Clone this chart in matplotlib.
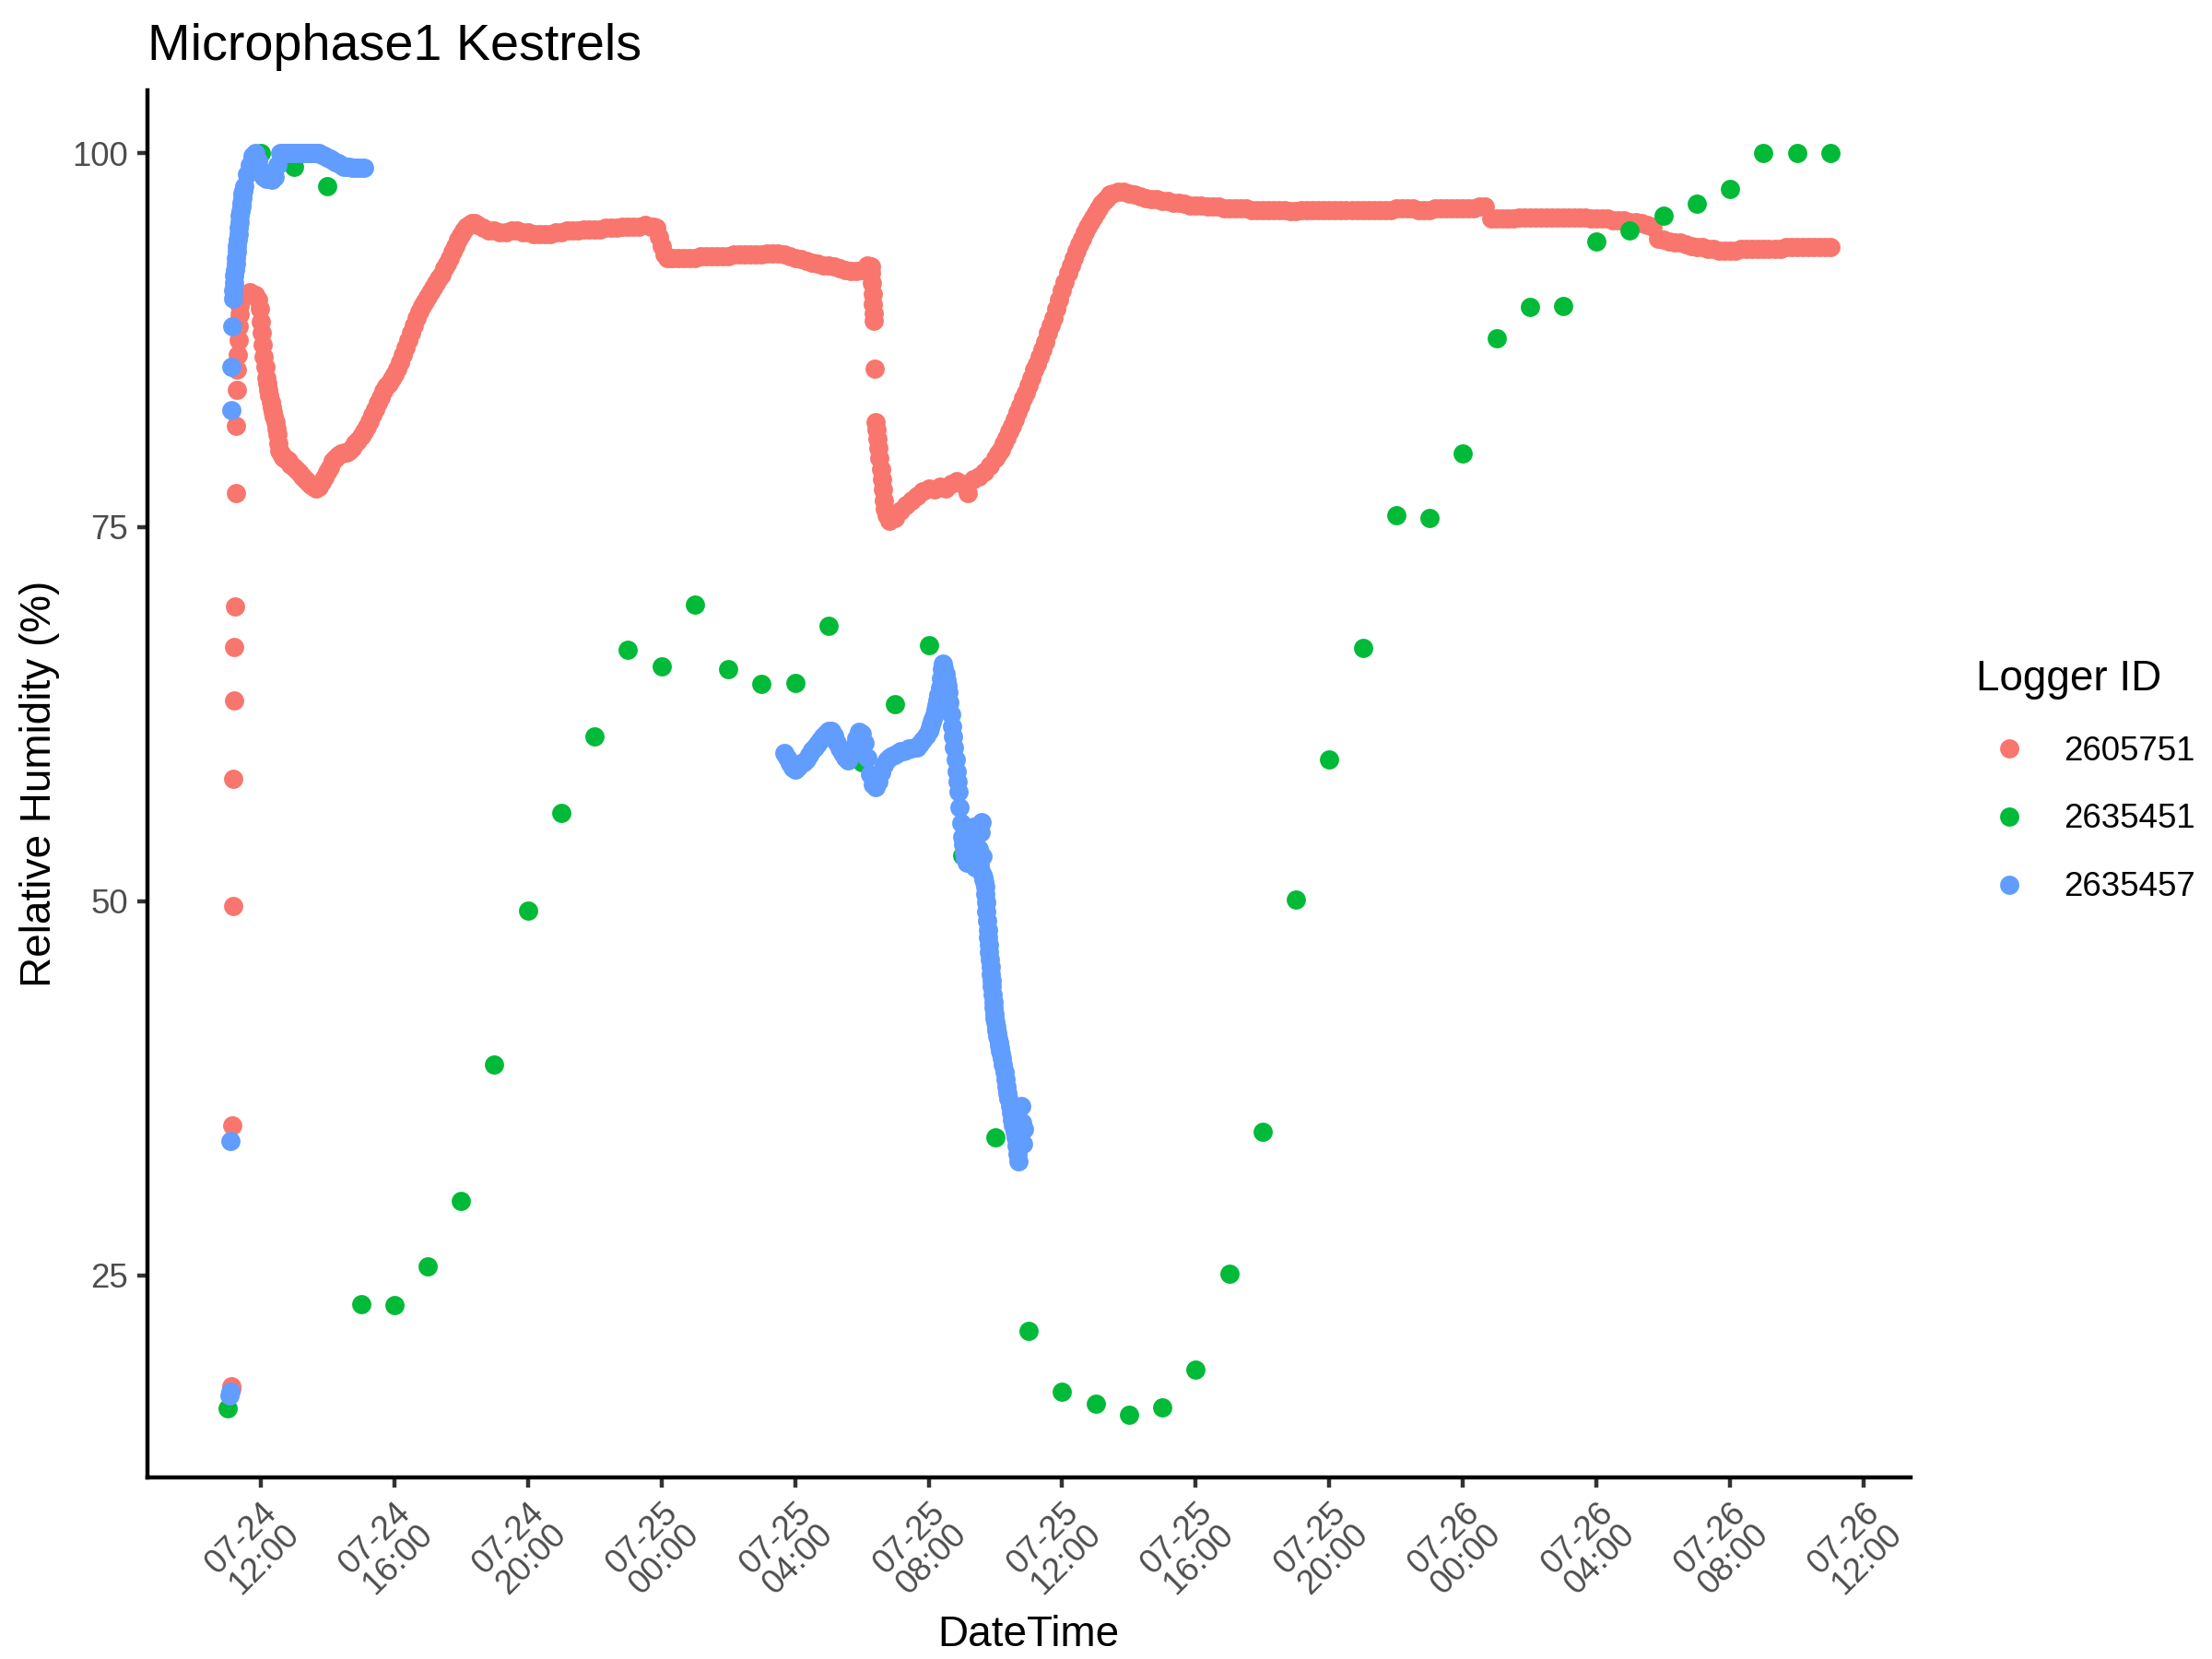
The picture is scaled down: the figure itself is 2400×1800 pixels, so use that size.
import matplotlib
matplotlib.use("Agg")
import matplotlib.pyplot as plt
import matplotlib.dates as mdates
import pandas as pd

plt.rcParams['font.family'] = ['Liberation Sans', 'DejaVu Sans']

logger_ids = ["2605751", "2635451", "2635457"]
logger_colors = ["#F8766D", "#00BA38", "#619CFF"]

# ---- Logger 2605751 (segments of regular logging steps) ----
red_a = [17.4, 17.6, 35.0, 49.7, 58.2, 63.4, 67.0, 69.7, 77.3, 81.8, 84.2, 85.5,
         86.5, 87.5, 88.4, 89.2, 89.8, 90.2]
red_b1 = [90.3, 90.5, 90.6, 90.7, 90.6, 90.5]
red_b2 = [90.2, 89.6, 88.7, 88.0, 87.2, 86.4, 85.7, 85.0, 84.6, 84.2, 83.8, 83.4,
          83.0, 82.7, 82.4, 82.0, 81.6, 81.2, 80.6, 80.1, 79.9, 79.8, 79.7, 79.6,
          79.6, 79.5, 79.5, 79.4, 79.3, 79.2]
red_c1 = [79.0, 78.8, 78.6, 78.4, 78.2, 78.0, 77.8, 77.7, 77.6, 77.7, 78.0, 78.3,
          78.7, 79.0, 79.4, 79.6, 79.8, 79.9, 80.0, 80.0, 80.1, 80.3, 80.6, 80.8,
          81.1, 81.4, 81.7, 82.1, 82.5, 82.9, 83.3, 83.7, 84.1, 84.4, 84.6, 84.9,
          85.2, 85.6, 86.0, 86.5, 87.0, 87.5, 88.0, 88.5, 89.0, 89.4, 89.8, 90.1,
          90.4, 90.7, 91.0, 91.3, 91.6, 91.9, 92.3, 92.6, 93.0, 93.4, 93.8, 94.2,
          94.5, 94.8, 95.1, 95.2, 95.3, 95.3]
red_c2 = [95.2, 95.0, 94.8,
          94.8, 94.7, 94.7, 94.8, 94.8, 94.7,
          94.7, 94.6, 94.6, 94.6, 94.6, 94.7,
          94.7, 94.8, 94.8, 94.8, 94.9, 94.9,
          94.9, 94.9, 95.0, 95.0, 95.0, 95.1,
          95.1, 95.1, 95.1, 95.2, 95.1]
red_d = [95.1, 95.0, 94.4, 93.8, 93.2, 93.0, 93.0]
red_e = [93.0, 93.0, 93.0, 93.0,
         93.0, 93.1, 93.1, 93.1, 93.1, 93.1,
         93.1, 93.2, 93.2, 93.2, 93.2, 93.2,
         93.2, 93.3, 93.3, 93.3, 93.2, 93.1,
         93.0, 92.9, 92.8, 92.7, 92.6, 92.5,
         92.5, 92.4, 92.3, 92.2, 92.1, 92.1,
         92.2, 92.5]
red_f1 = [92.4, 92.0, 91.3, 90.6, 89.9, 89.3, 88.8, 85.6, 82.0]
red_f2 = [81.5, 80.9, 80.3, 79.6, 78.9, 78.2, 77.5, 76.8, 76.2, 75.8]
red_g1 = [75.4,
          75.6, 76.1, 76.5, 76.8, 77.1, 77.4,
          77.6, 77.5, 77.7, 77.6, 77.9, 78.1,
          77.9, 77.3, 78.2, 78.4, 78.7, 79.1]
red_g2 = [79.6, 79.9, 80.2, 80.6, 81.0, 81.4, 81.8, 82.2, 82.7, 83.1, 83.6, 84.0,
          84.5, 85.0, 85.5, 85.9, 86.4, 86.9, 87.4, 88.0, 88.5, 89.0, 89.6, 90.2,
          90.8, 91.4, 92.0, 92.5, 93.0, 93.5, 93.9, 94.3, 94.7, 95.1, 95.4, 95.7,
          96.0, 96.3, 96.6, 96.8, 97.0, 97.2]
red_g3 = [97.3, 97.4, 97.4,
          97.3, 97.2, 97.1, 97.0, 96.9, 96.9,
          96.8, 96.8, 96.7, 96.7, 96.6, 96.5,
          96.5, 96.5, 96.4, 96.4, 96.4, 96.3,
          96.3, 96.3, 96.3, 96.3, 96.2, 96.2,
          96.2, 96.2, 96.2, 96.2, 96.2, 96.1,
          96.1, 96.2, 96.2, 96.2, 96.2, 96.2,
          96.2, 96.2, 96.2, 96.2, 96.2, 96.2,
          96.2, 96.2, 96.2, 96.2, 96.2, 96.2,
          96.3, 96.3, 96.3, 96.3, 96.2, 96.2,
          96.2, 96.3, 96.3, 96.3, 96.3, 96.3,
          96.3, 96.3, 96.3, 96.4, 96.4]
red_i = [95.6,
         95.6, 95.6, 95.6, 95.6, 95.7, 95.7,
         95.7, 95.7, 95.7, 95.7, 95.7, 95.7,
         95.7, 95.7, 95.7, 95.7, 95.7, 95.6,
         95.6, 95.6, 95.6, 95.5, 95.5, 95.5,
         95.4, 95.4, 95.3, 95.2, 95.1, 94.3,
         94.2, 94.1, 94.0, 94.0, 93.9, 93.8,
         93.7, 93.7, 93.6, 93.6, 93.5, 93.5,
         93.5, 93.5, 93.6, 93.6, 93.6, 93.6,
         93.6, 93.6, 93.6, 93.6, 93.7, 93.7,
         93.7, 93.7, 93.7, 93.7, 93.7, 93.7,
         93.7]
red_segments = [
    ("2024-07-24 11:07", 1, red_a),
    ("2024-07-24 11:25", 5, red_b1),
    ("2024-07-24 11:56", 2, red_b2),
    ("2024-07-24 13:00", 5, red_c1),
    ("2024-07-24 18:30", 10, red_c2),
    ("2024-07-24 23:45", 5, red_d),
    ("2024-07-25 00:20", 10, red_e),
    ("2024-07-25 06:16", 1, red_f1),
    ("2024-07-25 06:26", 2, red_f2),
    ("2024-07-25 06:50", 10, red_g1),
    ("2024-07-25 10:00", 5, red_g2),
    ("2024-07-25 13:30", 10, red_g3),
    ("2024-07-26 00:50", 10, red_i),
]

# ---- Logger 2635451 (hourly) ----
green_start = "2024-07-24 11:00"
green_rh = [16.1, 100.0, 99.1, 97.8, 23.1, 23.0, 25.6, 30.0, 39.1, 49.4, 55.9, 61.0,
            66.8, 65.7, 69.8, 65.5, 64.5, 64.6, 68.4, 59.3, 63.2, 67.1, 53.1, 34.2,
            21.3, 17.2, 16.4, 15.7, 16.2, 18.7, 25.1, 34.6, 50.1, 59.5, 66.9, 75.8,
            75.6, 79.9, 87.6, 89.7, 89.8, 94.1, 94.8, 95.8, 96.6, 97.6, 100.0, 100.0,
            100.0]
green_segments = [(green_start, 60, green_rh)]

# ---- Logger 2635457 ----
blue_a = [17.0, 17.2, 34.0, 82.8, 85.7, 88.4, 90.3, 90.8, 91.3, 91.8, 92.2, 92.6,
          93.0, 93.4, 93.8, 94.2, 94.6, 95.0, 95.4, 95.8, 96.1, 96.4, 96.7, 97.0,
          97.3, 97.5]
blue_b = [97.8, 98.6, 99.2, 99.8, 100.0, 99.5,
          98.8, 98.4, 98.3, 98.5, 98.2, 98.4, 99.2, 100.0, 100.0, 100.0, 100.0, 100.0,
          100.0, 100.0, 100.0, 100.0, 100.0, 100.0, 100.0, 100.0, 100.0, 100.0, 99.9,
          99.8, 99.7, 99.6, 99.5, 99.4, 99.3, 99.2, 99.1, 99.1, 99.1, 99.0, 99.0,
          99.0, 99.0, 99.0]
blue_c = [59.9, 59.6, 59.2, 58.9, 58.8, 59.0, 59.2, 59.3, 59.5, 59.8, 60.1, 60.3,
          60.5, 60.8, 61.0, 61.2, 61.4, 61.4, 61.1, 60.6, 60.2, 59.9, 59.6, 59.4,
          59.7, 60.3, 60.9, 61.3, 61.2, 60.6, 59.6, 58.5, 57.8, 57.6, 58.0, 58.6,
          59.1, 59.4, 59.6, 59.7, 59.8, 59.9, 60.0, 60.0, 60.1, 60.2, 60.2, 60.3,
          60.3, 60.5, 60.8, 61.1]
blue_d = [61.4, 61.6, 61.8, 62.0, 62.2, 62.5, 62.8, 63.1, 63.4, 63.8, 64.3, 64.9,
          65.5, 65.9, 65.6, 65.2, 64.8, 64.4, 64.0, 63.3, 62.5, 61.7, 61.0, 60.3,
          59.5, 58.7, 58.0, 57.3, 56.3, 55.2, 54.3, 53.8, 53.3, 52.9, 52.6, 53.4,
          54.5, 53.6, 52.5, 53.9, 55.0, 53.2, 52.3, 54.8, 52.8]
blue_e = [53.5, 55.0, 52.4, 54.6, 52.0, 55.3, 51.8, 53.0, 51.6, 51.5, 51.3, 51.0,
          50.5, 49.9, 49.3, 48.7, 48.1, 47.6, 47.1, 46.6, 46.1, 45.6, 45.1, 44.7,
          44.3, 43.8, 43.3, 42.9, 42.5, 42.2, 41.9, 41.6, 41.4, 41.2, 41.0, 40.8,
          40.6, 40.4, 40.2, 40.0, 39.8]
blue_f = [39.5, 39.1, 38.6, 38.1, 37.6, 37.2, 36.8, 36.3, 35.9, 35.4, 35.0, 34.6,
          34.2, 33.7, 33.1, 32.6, 34.0, 36.3, 35.2, 33.8, 34.8]
blue_segments = [
    ("2024-07-24 11:04", 1, blue_a),
    ("2024-07-24 11:30", 5, blue_b),
    ("2024-07-25 03:40", 5, blue_c),
    ("2024-07-25 08:00", 2, blue_d),
    ("2024-07-25 09:30", 1, blue_e),
    ("2024-07-25 10:12", 2, blue_f),
]


def build(segments):
    times, vals = [], []
    for start, step, values in segments:
        times.extend(pd.date_range(start, periods=len(values),
                                   freq=pd.Timedelta(minutes=step)))
        vals.extend(values)
    return pd.DataFrame({"DateTime": times, "RH": vals})


frames = [build(red_segments), build(green_segments), build(blue_segments)]

fig = plt.figure(figsize=(8, 6), dpi=300)
ax = fig.add_axes([0.0665, 0.1093, 0.7972, 0.8365])

for lid, col, df in zip(logger_ids, logger_colors, frames):
    ax.scatter(df["DateTime"], df["RH"], s=25, color=col, linewidths=0, label=lid)

all_t = pd.concat([f["DateTime"] for f in frames])
all_v = pd.concat([f["RH"] for f in frames])
t0, t1 = mdates.date2num(all_t.min()), mdates.date2num(all_t.max())
v0, v1 = all_v.min(), all_v.max()
ax.set_xlim(t0 - 0.05 * (t1 - t0), t1 + 0.05 * (t1 - t0))
ax.set_ylim(v0 - 0.05 * (v1 - v0), v1 + 0.05 * (v1 - v0))

ax.set_yticks([25, 50, 75, 100])
ax.xaxis.set_major_locator(mdates.HourLocator(byhour=[0, 4, 8, 12, 16, 20]))
ax.xaxis.set_major_formatter(mdates.DateFormatter("%m-%d\n%H:%M"))

for s in ["top", "right"]:
    ax.spines[s].set_visible(False)
for s in ["left", "bottom"]:
    ax.spines[s].set_linewidth(1.07)
    ax.spines[s].set_color("black")

ax.tick_params(axis="both", length=2.75, width=1.07, color="#333333",
               labelcolor="#4D4D4D", labelsize=8.8, pad=2.2)
plt.setp(ax.get_xticklabels(), rotation=45, ha="right", va="top",
         rotation_mode="anchor", linespacing=0.95)

ax.set_xlabel("DateTime", fontsize=11)
ax.set_ylabel("Relative Humidity (%)", fontsize=11)
ax.xaxis.set_label_coords(0.5, -0.099)
ax.yaxis.set_label_coords(-0.0608, 0.5)
ax.yaxis.label.set_verticalalignment("center")

fig.text(0.0665, 0.9638, "Microphase1 Kestrels", fontsize=13.4,
         ha="left", va="baseline")

leg = ax.legend(title="Logger ID", loc="upper left",
                bbox_to_anchor=(0.8934, 0.6027), bbox_transform=fig.transFigure,
                frameon=False, fontsize=8.8, title_fontsize=11, borderpad=0,
                handlelength=1.964, handletextpad=0.625, labelspacing=1.0,
                handleheight=1.0, alignment="left", borderaxespad=0)

fig.savefig("out.png", dpi=300)
